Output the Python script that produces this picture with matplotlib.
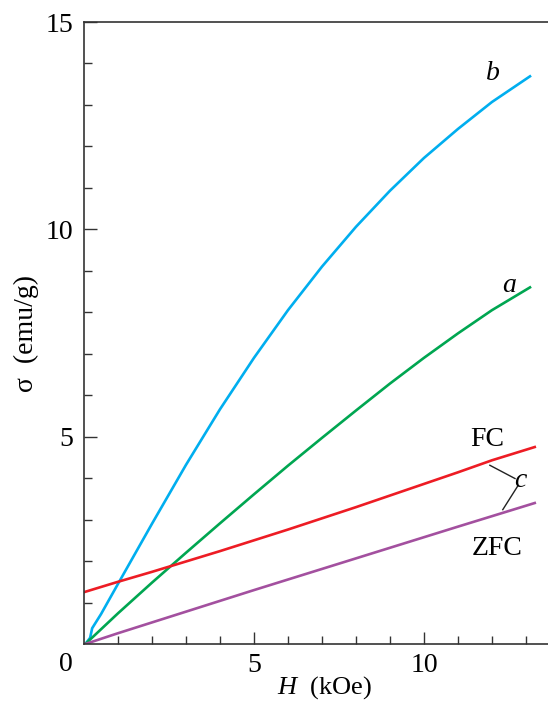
import numpy as np
import matplotlib.pyplot as plt

plt.rcParams['font.family'] = ['Liberation Serif', 'DejaVu Serif']
plt.rcParams['mathtext.fontset'] = 'custom'
plt.rcParams['mathtext.rm'] = 'Liberation Serif'
plt.rcParams['mathtext.it'] = 'Liberation Serif:italic'

# curve b (blue)
h_b = [0.04, 0.18, 0.24, 0.5, 1.0, 2.0, 3.0, 4.0, 5.0, 6.0, 7.0, 8.0, 9.0,
       10.0, 11.0, 12.0, 13.12]
s_b = [0.0, 0.15, 0.38, 0.72, 1.45, 2.9, 4.32, 5.66, 6.9, 8.05, 9.1, 10.06, 10.93,
       11.72, 12.42, 13.07, 13.69]
# curve a (green)
h_a = [0.04, 1.0, 2.0, 3.0, 4.0, 5.0, 6.0, 7.0, 8.0, 9.0, 10.0, 11.0, 12.0, 13.12]
s_a = [0.0, 0.74, 1.48, 2.2, 2.91, 3.61, 4.3, 4.97, 5.63, 6.28, 6.9, 7.49, 8.05, 8.6]
# curve c, FC (red)
h_fc = [0.0, 1.0, 2.0, 3.0, 4.0, 5.0, 6.0, 7.0, 8.0, 9.0, 10.0, 11.0, 12.0, 13.26]
s_fc = [1.25, 1.5, 1.74, 1.99, 2.24, 2.5, 2.76, 3.03, 3.3, 3.58, 3.86, 4.14, 4.43, 4.75]
# curve c, ZFC (purple)
h_zfc = [0.04, 1.0, 3.0, 5.0, 7.0, 9.0, 11.0, 13.26]
s_zfc = [0.0, 0.26, 0.78, 1.3, 1.81, 2.32, 2.83, 3.4]

fig = plt.figure(figsize=(5.48, 7.02), dpi=100)
ax = fig.add_axes([84/548, 1 - 644/702, 1 - 84/548, (644 - 22)/702])

lw = 1.9
ax.plot(h_b, s_b, color='#00aeef', lw=lw)
ax.plot(h_a, s_a, color='#00a651', lw=lw)
ax.plot(h_fc, s_fc, color='#ed1c24', lw=lw)
ax.plot(h_zfc, s_zfc, color='#a3509f', lw=lw)

ax.set_xlim(0, 13.65)
ax.set_ylim(0, 15)
ax.spines['right'].set_visible(False)
for s in ['left', 'bottom', 'top']:
    ax.spines[s].set_linewidth(1.2)
    ax.spines[s].set_color('#333333')

ax.set_xticks([5, 10])
ax.set_xticks(np.arange(1, 14), minor=True)
ax.set_yticks([5, 10, 15])
ax.set_yticks(np.arange(1, 15), minor=True)
ax.tick_params(which='both', direction='in', color='#333333', width=1.0,
               labelsize=20, top=False, right=False)
ax.tick_params(which='major', length=9)
ax.tick_params(which='minor', length=5.5)
ax.tick_params(axis='x', pad=6.5)
ax.tick_params(axis='y', pad=8)

ax.text(-0.53, -0.5, '0', fontsize=20, ha='center', va='center', clip_on=False)

ax.set_xlabel(r'$\it{H}$  (kOe)', fontsize=19)
ax.xaxis.label.set_va('center')
ax.xaxis.set_label_coords(0.518, -0.07)
ax.set_ylabel('σ  (emu/g)', fontsize=20)
ax.yaxis.label.set_va('center')
ax.yaxis.set_label_coords(-0.125, 0.5)

ax.text(12.03, 13.75, 'b', fontsize=20, style='italic', ha='center', va='center')
ax.text(12.5, 8.65, 'a', fontsize=20, style='italic', ha='center', va='center')
ax.text(11.85, 4.92, 'FC', fontsize=20, ha='center', va='center')
ax.text(12.85, 3.95, 'c', fontsize=20, style='italic', ha='center', va='center')
ax.text(12.15, 2.31, 'ZFC', fontsize=20, ha='center', va='center')
ax.plot([11.94, 12.68], [4.31, 3.99], color='#222222', lw=1.0)
ax.plot([12.76, 12.32], [3.81, 3.24], color='#222222', lw=1.0)

fig.savefig('out.png', dpi=100)
